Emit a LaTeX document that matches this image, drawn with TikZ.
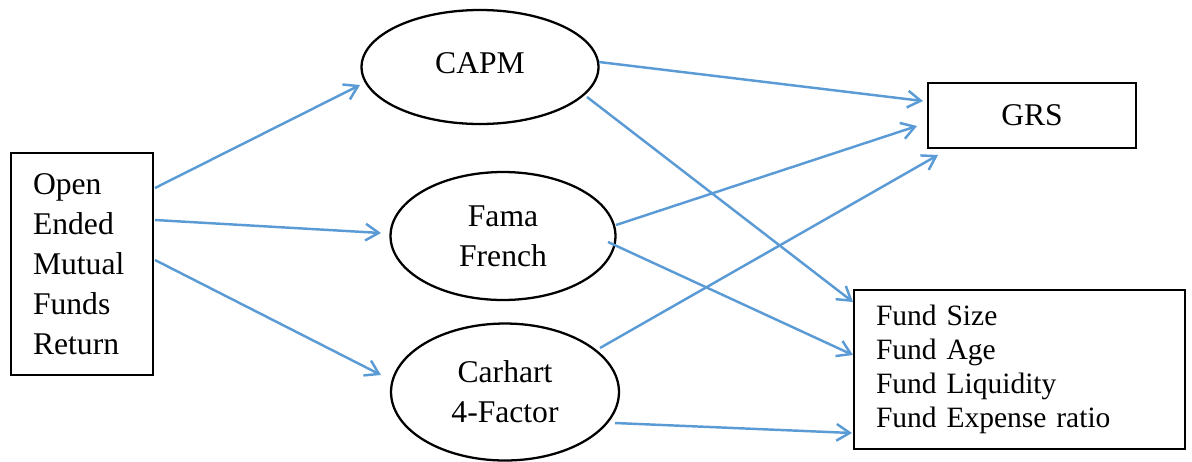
\documentclass[tikz,border=0pt]{standalone}
\usepackage{fontspec}
\setmainfont{Liberation Serif}
\usetikzlibrary{shapes.geometric,arrows.meta,calc}
\definecolor{arrowblue}{RGB}{91,155,213}
\begin{document}
\begin{tikzpicture}[x=0.02cm,y=-0.02cm,
  bigtext/.style={font=\fontsize{18}{22.7}\selectfont},
  smalltext/.style={font=\fontsize{16.8}{19.3}\selectfont},
  boxnode/.style={draw=black,line width=1.3pt,rectangle,inner sep=0pt},
  ellnode/.style={draw=black,line width=1.3pt,ellipse,inner sep=0pt,align=center,bigtext},
  conn/.style={draw=arrowblue,line width=1.4pt,-{Straight Barb[length=7.5pt,width=9.5pt]}}
]
\useasboundingbox (0,0) rectangle (1192,461);

\node[boxnode,bigtext,minimum width=2.84cm,minimum height=4.44cm,text width=1.96cm,align=left] (src) at (82,264)
  {Open\\Ended\\Mutual\\Funds\\Return};

\node[ellnode,minimum width=4.74cm,minimum height=2.28cm] (capm) at (480,67) {\raisebox{0.14cm}{CAPM}};
\node[ellnode,minimum width=4.5cm,minimum height=2.56cm] (fama) at (503,236) {Fama\\French};
\node[ellnode,minimum width=4.56cm,minimum height=2.74cm] (carhart) at (505,392) {Carhart\\4-Factor};

\node[boxnode,bigtext,minimum width=4.16cm,minimum height=1.3cm] (grs) at (1032,115.5) {GRS};
\node[boxnode,smalltext,minimum width=6.62cm,minimum height=3.18cm,text width=5.74cm,align=left] (fund) at (1019.5,369.5)
  {Fund Size\\Fund Age\\Fund Liquidity\\Fund Expense ratio};

\draw[conn] ($(src.center)+(73,-76)$) -- ($(capm.center)+(-120,18)$);
\draw[conn] ($(src.center)+(73,-44)$) -- ($(fama.center)+(-122,-3)$);
\draw[conn] ($(src.center)+(73,-4)$) -- ($(carhart.center)+(-124,-17)$);

\draw[conn] ($(capm.center)+(119,-5)$) -- ($(grs.center)+(-109,-14.5)$);
\draw[conn] ($(capm.center)+(107,30)$) -- ($(fund.center)+(-166.5,-67.5)$);
\draw[conn] ($(fama.center)+(113,-11)$) -- ($(grs.center)+(-115,10.5)$);
\draw[conn] ($(fama.center)+(105,6)$) -- ($(fund.center)+(-166.5,-14.5)$);
\draw[conn] ($(carhart.center)+(95,-44)$) -- ($(grs.center)+(-94,39.5)$);
\draw[conn] ($(carhart.center)+(110,31)$) -- ($(fund.center)+(-167.5,63.5)$);
\end{tikzpicture}
\end{document}
